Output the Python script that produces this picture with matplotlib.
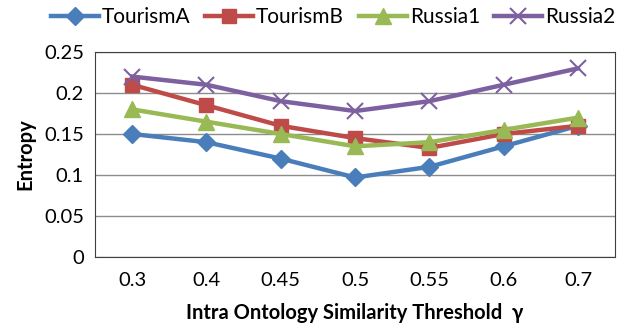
import matplotlib.pyplot as plt
import numpy as np

plt.rcParams['font.family'] = ['Lato', 'DejaVu Sans']

thresholds = ['0.3', '0.4', '0.45', '0.5', '0.55', '0.6', '0.7']
tourism_a = [0.15, 0.14, 0.12, 0.097, 0.11, 0.135, 0.16]
tourism_b = [0.21, 0.185, 0.16, 0.145, 0.133, 0.15, 0.16]
russia1 = [0.18, 0.165, 0.15, 0.135, 0.14, 0.155, 0.17]
russia2 = [0.22, 0.21, 0.19, 0.178, 0.19, 0.21, 0.23]

fig = plt.figure(figsize=(6.23, 3.33), dpi=100)
ax = fig.add_axes([0.1525, 0.228, 0.835, 0.616])

x = np.arange(len(thresholds))
ax.plot(x, tourism_a, color='#4A7EBB', lw=3.2, marker='D', ms=9, label='TourismA')
ax.plot(x, tourism_b, color='#BE4B48', lw=3.2, marker='s', ms=10, label='TourismB')
ax.plot(x, russia1, color='#98B954', lw=3.2, marker='^', ms=11, label='Russia1')
ax.plot(x, russia2, color='#7D60A0', lw=3.2, marker='x', ms=12, mew=1.5, label='Russia2')

ax.set_xlim(-0.5, len(thresholds) - 0.5)
ax.set_ylim(0, 0.25)
ax.set_yticks([0, 0.05, 0.1, 0.15, 0.2, 0.25])
ax.set_yticklabels(['0', '0.05', '0.1', '0.15', '0.2', '0.25'])
ax.set_xticks(x)
ax.set_xticklabels(thresholds)
ax.tick_params(length=0, labelsize=14.5, pad=8)
ax.tick_params(axis='x', pad=11)
ax.yaxis.grid(True, color='#8c8c8c', lw=1)
ax.set_axisbelow(True)
for s in ax.spines.values():
    s.set_color('#404040')

ax.set_ylabel('Entropy', fontsize=14.5, fontweight='bold', labelpad=6)
ax.set_xlabel('Intra Ontology Similarity Threshold  γ', fontsize=14.5, fontweight='bold', labelpad=10)

fig.legend(loc='upper center', bbox_to_anchor=(0.535, 1.035), ncol=4, frameon=False,
           fontsize=15, handlelength=2.3, handletextpad=0.15, columnspacing=0.7)

fig.savefig('out.png', dpi=100)
